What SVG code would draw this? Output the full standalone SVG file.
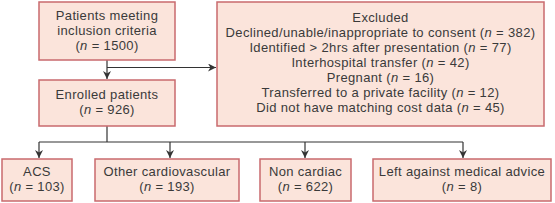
<svg xmlns="http://www.w3.org/2000/svg" width="555" height="203" viewBox="0 0 555 203">
<defs>
<style>
.box{fill:#fbe4db;stroke:#c96a6e;stroke-width:1.5}
.t{font-family:"Liberation Sans",Arial,sans-serif;font-size:13px;letter-spacing:0.35px;fill:#3a3a3a;text-anchor:middle}
.ln{stroke:#333;stroke-width:1.2;fill:none}
</style>
<marker id="ah" viewBox="0 0 10 10" refX="10" refY="5" markerWidth="8" markerHeight="8" markerUnits="userSpaceOnUse" orient="auto">
<path d="M0,0 L10,5 L0,10 L3,5 Z" fill="#333"/>
</marker>
</defs>
<g id="connectors">
<line class="ln" x1="107" y1="60" x2="107" y2="79" marker-end="url(#ah)"/>
<line class="ln" x1="107" y1="67.5" x2="216" y2="67.5" marker-end="url(#ah)"/>
<line class="ln" x1="107" y1="126" x2="107" y2="142"/>
<line class="ln" x1="39" y1="142" x2="463" y2="142"/>
<line class="ln" x1="39" y1="142" x2="39" y2="158" marker-end="url(#ah)"/>
<line class="ln" x1="170" y1="142" x2="170" y2="158" marker-end="url(#ah)"/>
<line class="ln" x1="305" y1="142" x2="305" y2="158" marker-end="url(#ah)"/>
<line class="ln" x1="463" y1="142" x2="463" y2="158" marker-end="url(#ah)"/>
</g>
<g id="patients">
<rect class="box" x="39" y="2" width="136" height="58"/>
<text class="t" x="107" y="19.5">Patients meeting</text>
<text class="t" x="107" y="34.5">inclusion criteria</text>
<text class="t" x="107" y="49.5">(<tspan font-style="italic">n</tspan> = 1500)</text>
</g>
<g id="excluded">
<rect class="box" x="217" y="2" width="327" height="124"/>
<text class="t" x="380.5" y="21.5">Excluded</text>
<text class="t" x="380.5" y="37">Declined/unable/inappropriate to consent (<tspan font-style="italic">n</tspan> = 382)</text>
<text class="t" x="380.5" y="52">Identified &gt; 2hrs after presentation (<tspan font-style="italic">n</tspan> = 77)</text>
<text class="t" x="380.5" y="67">Interhospital transfer (<tspan font-style="italic">n</tspan> = 42)</text>
<text class="t" x="380.5" y="82">Pregnant (<tspan font-style="italic">n</tspan> = 16)</text>
<text class="t" x="380.5" y="97">Transferred to a private facility (<tspan font-style="italic">n</tspan> = 12)</text>
<text class="t" x="380.5" y="112">Did not have matching cost data (<tspan font-style="italic">n</tspan> = 45)</text>
</g>
<g id="enrolled">
<rect class="box" x="39" y="80" width="136" height="46"/>
<text class="t" x="107" y="98.5">Enrolled patients</text>
<text class="t" x="107" y="113.5">(<tspan font-style="italic">n</tspan> = 926)</text>
</g>
<g id="acs">
<rect class="box" x="2" y="159" width="70" height="42"/>
<text class="t" x="37" y="176">ACS</text>
<text class="t" x="37" y="191">(<tspan font-style="italic">n</tspan> = 103)</text>
</g>
<g id="othercv">
<rect class="box" x="95" y="159" width="144" height="42"/>
<text class="t" x="167" y="176">Other cardiovascular</text>
<text class="t" x="167" y="191">(<tspan font-style="italic">n</tspan> = 193)</text>
</g>
<g id="noncardiac">
<rect class="box" x="260" y="159" width="91" height="42"/>
<text class="t" x="305.5" y="176">Non cardiac</text>
<text class="t" x="305.5" y="191">(<tspan font-style="italic">n</tspan> = 622)</text>
</g>
<g id="lama">
<rect class="box" x="373" y="159" width="178" height="42"/>
<text class="t" x="462" y="176">Left against medical advice</text>
<text class="t" x="462" y="191">(<tspan font-style="italic">n</tspan> = 8)</text>
</g>
</svg>
